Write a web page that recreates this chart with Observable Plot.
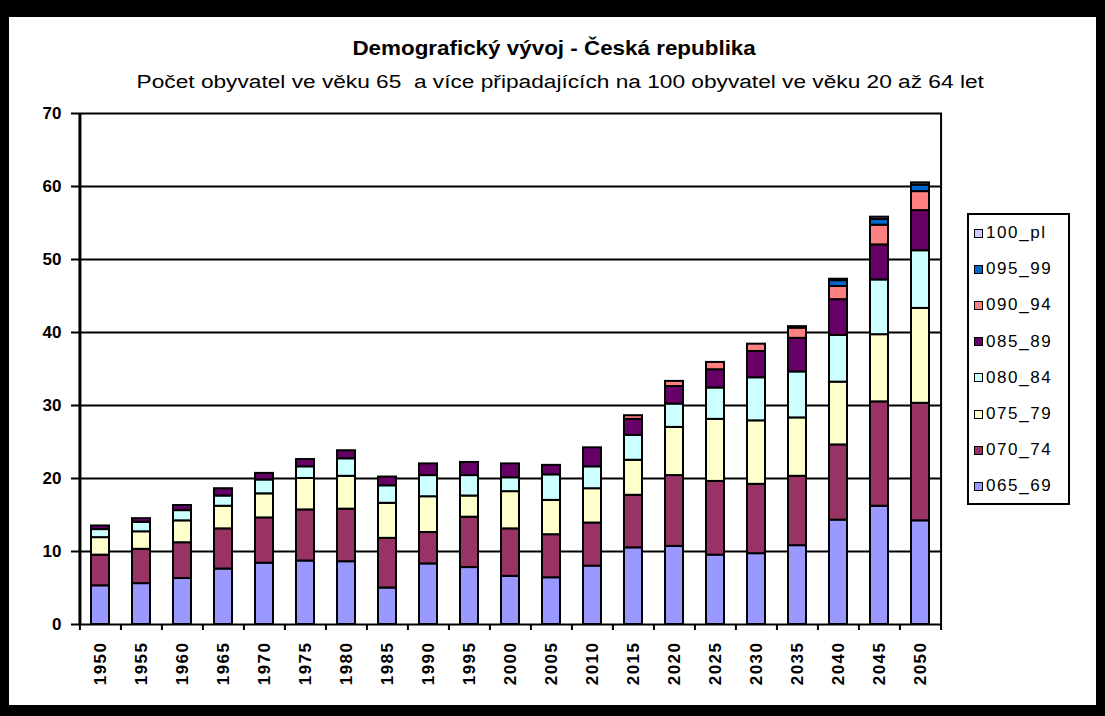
<!DOCTYPE html>
<html>
<head>
<meta charset="utf-8">
<script src="https://cdn.jsdelivr.net/npm/d3@7"></script>
<script src="https://cdn.jsdelivr.net/npm/@observablehq/plot@0.6"></script>
<style>
  body { margin: 0; background: #fff; }
  #frame { position: relative; width: 1105px; height: 716px; background: #000; overflow: hidden;
           font-family: "Liberation Sans", Arial, sans-serif; color: #000; }
  #sheet { position: absolute; left: 9px; top: 17px; width: 1087px; height: 688px; background: #fff; }
  #chart { position: absolute; left: 0; top: 0; }
  .head { position: absolute; left: 0; width: 1105px; text-align: center; white-space: pre; }
  .head span { display: inline-block; transform-origin: center; }
  #title { top: 37px; font-size: 20px; line-height: 22px; font-weight: bold; }
  #title span { transform: scaleX(1.12); margin-left: 4px; }
  #subtitle { top: 71px; font-size: 18px; line-height: 22px; }
  #subtitle span { transform: scaleX(1.26); margin-left: 15px; }
  #legend { position: absolute; left: 967px; top: 213px; width: 99px; height: 288px;
            border: 2px solid #000; background: #fff; }
  .item { height: 36.2px; display: flex; align-items: center; font-size: 17px; letter-spacing: 1.6px; }
  .sw { width: 7px; height: 7px; border: 1.5px solid #000; margin-left: 5px; margin-right: 3px; flex: none; }
</style>
</head>
<body>
<div id="frame">
  <div id="sheet"></div>
  <div id="chart"></div>
  <div id="title" class="head"><span>Demografický vývoj - Česká republika</span></div>
  <div id="subtitle" class="head"><span>Počet obyvatel ve věku 65  a více připadajících na 100 obyvatel ve věku 20 až 64 let</span></div>
  <div id="legend"></div>
</div>
<script>
// Census years / projection years on the category axis
const years = ["1950","1955","1960","1965","1970","1975","1980","1985","1990","1995",
               "2000","2005","2010","2015","2020","2025","2030","2035","2040","2045","2050"];

// Age groups, bottom of the stack first
const groups = ["065_69","070_74","075_79","080_84","085_89","090_94","095_99","100_pl"];
const groupColors = ["#9999FF","#993366","#FFFFCC","#CCFFFF","#660066","#FF8080","#0066CC","#CCCCFF"];

// Persons of each age group per 100 persons aged 20–64
const age065_69 = [5.3,5.6,6.3,7.6,8.4,8.7,8.6,5.0,8.3,7.8,6.6,6.4,8.0,10.5,10.7,9.5,9.7,10.8,14.3,16.2,14.2];
const age070_74 = [4.2,4.7,4.9,5.5,6.2,7.0,7.2,6.8,4.3,6.9,6.5,5.9,5.9,7.2,9.7,10.1,9.5,9.5,10.3,14.3,16.1];
const age075_79 = [2.4,2.4,3.0,3.1,3.3,4.3,4.5,4.8,4.9,2.9,5.1,4.7,4.7,4.8,6.6,8.5,8.7,8.0,8.6,9.2,13.0];
const age080_84 = [1.1,1.3,1.4,1.4,1.9,1.6,2.4,2.4,2.9,2.8,1.9,3.5,3.0,3.4,3.2,4.3,5.9,6.3,6.4,7.5,7.9];
const age085_89 = [0.5,0.5,0.7,1.0,0.9,1.0,1.1,1.2,1.6,1.8,1.9,1.3,2.6,2.2,2.4,2.5,3.6,4.6,4.9,4.8,5.5];
const age090_94 = [0,0,0,0,0,0,0,0,0,0,0,0,0,0.5,0.7,1.0,1.0,1.4,1.8,2.7,2.6];
const age095_99 = [0,0,0,0,0,0,0,0,0,0,0,0,0,0,0,0,0,0.2,0.8,0.8,0.9];
const age100_pl = [0,0,0,0,0,0,0,0,0,0,0,0,0,0,0,0,0,0,0.2,0.3,0.3];

const yTicks = [0,10,20,30,40,50,60,70];

const seriesValues = [age065_69, age070_74, age075_79, age080_84, age085_89, age090_94, age095_99, age100_pl];
const rows = [];
groups.forEach((g, i) => years.forEach((yr, j) => {
  const v = seriesValues[i][j];
  if (v > 0) rows.push({year: yr, group: g, value: v});
}));

const W = 1105, H = 700;
const mL = 78, mR = W - 942, mT = 113, mB = H - 624;
const step = (W - mL - mR) / years.length;
const font = "'Liberation Sans', Arial, sans-serif";

const chart = Plot.plot({
  width: W, height: H,
  marginLeft: mL, marginRight: mR, marginTop: mT, marginBottom: mB,
  style: {fontFamily: font, fontSize: "17px", color: "#000", background: "transparent", overflow: "visible"},
  x: {domain: years, paddingInner: 0.57, paddingOuter: 0.285, label: null},
  y: {domain: [0, 70], label: null},
  color: {domain: groups, range: groupColors},
  marks: [
    // horizontal gridlines (the top one closes the plot area)
    Plot.ruleY(yTicks, {stroke: "#000", strokeWidth: 2}),
    // right edge of the plot area
    Plot.ruleX([years[years.length - 1]], {dx: step / 2, y1: 0, y2: 70, stroke: "#000", strokeWidth: 2}),
    // stacked bars
    Plot.barY(rows, {x: "year", y: "value", fill: "group", stroke: "#000", strokeWidth: 2}),
    // value axis line
    Plot.ruleX([years[0]], {dx: -step / 2, y1: 0, y2: 70, stroke: "#000", strokeWidth: 3}),
    // category tick marks between the columns
    Plot.ruleX(years, {dx: -step / 2, y1: 0, y2: 0, insetBottom: -6, stroke: "#000", strokeWidth: 2}),
    Plot.ruleX([years[years.length - 1]], {dx: step / 2, y1: 0, y2: 0, insetBottom: -6, stroke: "#000", strokeWidth: 2}),
    Plot.axisY({ticks: yTicks, tickSize: 7, tickPadding: 10, fontWeight: "bold", fontSize: 17, strokeWidth: 2}),
    Plot.axisX({tickSize: 0, tickRotate: -90, tickPadding: 17, fontWeight: "bold", fontSize: 17})
  ]
});
d3.select(chart).selectAll('g[aria-label="x-axis tick label"] text').attr("letter-spacing", "1.5px");
document.getElementById("chart").appendChild(chart);

// Legend, top entry = oldest age group
const legend = d3.select("#legend");
groups.slice().reverse().forEach(g => {
  const item = legend.append("div").attr("class", "item");
  item.append("div").attr("class", "sw").style("background", groupColors[groups.indexOf(g)]);
  item.append("span").text(g);
});
</script>
</body>
</html>
